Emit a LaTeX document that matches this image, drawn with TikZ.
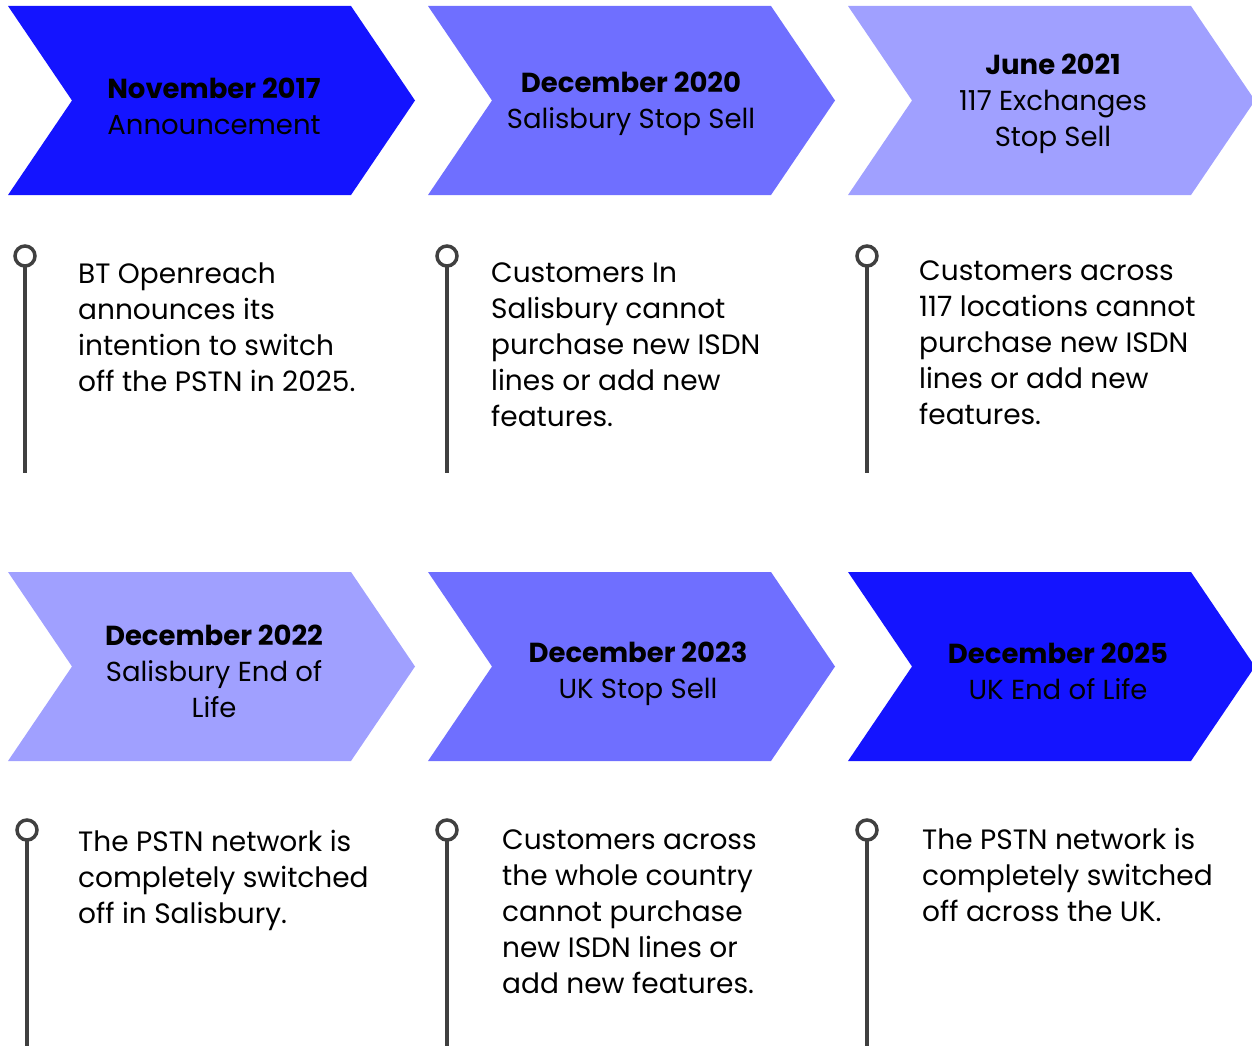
\documentclass[tikz,border=0pt]{standalone}
\usepackage{fontspec}
\setmainfont{Poppins}
\usepackage{tikz}
\usetikzlibrary{positioning}
\usepackage{xcolor}

\definecolor{darkblue}{RGB}{20,20,255}
\definecolor{midblue}{RGB}{111,111,255}
\definecolor{paleblue}{RGB}{160,160,255}
\definecolor{pingrey}{RGB}{64,64,64}

% one chevron: left x, top y, colour
\newcommand{\chevron}[3]{%
  \fill[#3] (#1,#2) -- ++(343,0) -- ++(64,94.5) -- ++(-64,94.5) -- ++(-343,0) -- ++(64,-94.5) -- cycle;
}

\begin{document}
\begin{tikzpicture}[x=1pt, y=-1pt,
    title/.style={align=center, inner sep=0pt, font=\fontsize{27.5}{36}\selectfont},
    body/.style={align=left, anchor=north west, inner sep=0pt, font=\fontsize{28}{36}\selectfont},
    pin/.style={draw=pingrey, line width=3.5pt, circle, fill=white, minimum size=20pt, inner sep=0pt},
    stem/.style={draw=pingrey, line width=3.5pt}]
    \useasboundingbox (0,0) rectangle (1252,1046);

    % Top row of chevrons
    \chevron{8}{6}{darkblue}
    \chevron{428}{6}{midblue}
    \chevron{848}{6}{paleblue}
    \node (nov17) [title] at (214,106) {\textbf{November 2017}\\Announcement};
    \node (dec20) [title] at (631,104) {\textbf{December 2020}\\Salisbury Stop Sell};
    \node (jun21) [title] at (1053,104) {\textbf{June 2021}\\117 Exchanges\\Stop Sell};

    % Bottom row of chevrons
    \chevron{8}{572}{paleblue}
    \chevron{428}{572}{midblue}
    \chevron{848}{572}{darkblue}
    \node (dec22) [title] at (214,671) {\textbf{December 2022}\\Salisbury End of\\Life};
    \node (dec23) [title] at (638,674) {\textbf{December 2023}\\UK Stop Sell};
    \node (dec25) [title] at (1058,671) {\textbf{December 2025}\\UK End of Life};

    % Pins, top row
    \coordinate (endA) at (25,473);
    \coordinate (endB) at (447,473);
    \coordinate (endC) at (867,473);
    \draw[stem] (25,256) -- (endA);
    \draw[stem] (447,256) -- (endB);
    \draw[stem] (867,256) -- (endC);
    \node (pinA) [pin] at (25,256) {};
    \node (pinB) [pin] at (447,256) {};
    \node (pinC) [pin] at (867,256) {};

    % Pins, bottom row
    \coordinate (endD) at (27,1046);
    \coordinate (endE) at (447,1046);
    \coordinate (endF) at (867,1046);
    \draw[stem] (27,830) -- (endD);
    \draw[stem] (447,830) -- (endE);
    \draw[stem] (867,830) -- (endF);
    \node (pinD) [pin] at (27,830) {};
    \node (pinE) [pin] at (447,830) {};
    \node (pinF) [pin] at (867,830) {};

    % Descriptions
    \node (txtA) [body] at (78,263) {BT Openreach\\announces its\\intention to switch\\off the PSTN in 2025.};
    \node (txtB) [body] at (491,263) {Customers In\\Salisbury cannot\\purchase new ISDN\\lines or add new\\features.};
    \node (txtC) [body] at (919,261) {Customers across\\117 locations cannot\\purchase new ISDN\\lines or add new\\features.};
    \node (txtD) [body] at (78,830) {The PSTN network is\\completely switched\\off in Salisbury.};
    \node (txtE) [body] at (502,830) {Customers across\\the whole country\\cannot purchase\\new ISDN lines or\\add new features.};
    \node (txtF) [body] at (922,828) {The PSTN network is\\completely switched\\off across the UK.};
\end{tikzpicture}
\end{document}
